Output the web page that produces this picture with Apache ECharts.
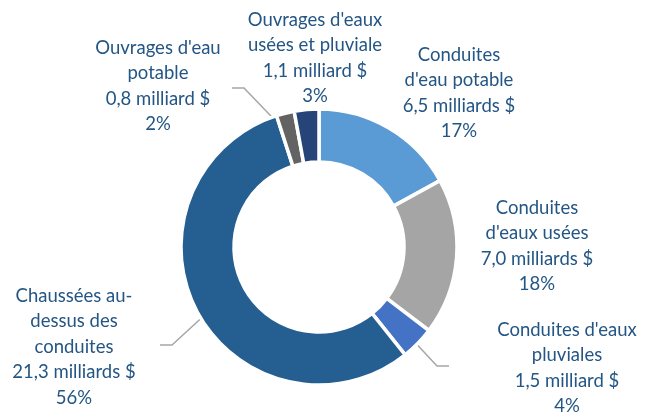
<!DOCTYPE html>
<html lang="fr">
<head>
<meta charset="utf-8">
<title>Répartition des coûts</title>
<script src="https://cdn.jsdelivr.net/npm/echarts@6/dist/echarts.min.js"></script>
<style>
  html, body { margin: 0; padding: 0; background: #fff; }
  #main { width: 645px; height: 414px; }
</style>
</head>
<body>
<div id="main"></div>
<script>
// données
var categories = [
  "Conduites\nd'eau potable",
  "Conduites\nd'eaux usées",
  "Conduites d'eaux\npluviales",
  "Chaussées au-\ndessus des\nconduites",
  "Ouvrages d'eau\npotable",
  "Ouvrages d'eaux\nusées et pluviale"
];
var values = [6.5, 7.0, 1.5, 21.3, 0.8, 1.1];
var colors = ['#5B9BD5', '#A5A5A5', '#4472C4', '#255E91', '#636363', '#264478'];

// position des étiquettes (centre du bloc de texte) et lignes de rappel
var labelPos = [[459, 93], [537, 246], [567, 368], [74, 347], [158, 86], [315, 58]];
var linePts = [null, null,
  [[397, 323], [437, 366], [449, 366]],
  [[221, 300], [172, 345], [160, 345]],
  [[292, 138], [244, 88], [232, 88]],
  null];

var chart = echarts.init(document.getElementById('main'));

var data = categories.map(function (c, i) {
  return {
    name: c,
    value: values[i],
    itemStyle: { color: colors[i] },
    labelLine: { show: !!linePts[i] }
  };
});

function fmt(p) {
  var v = p.value.toFixed(1).replace('.', ',');
  var unit = p.value < 2 ? ' milliard $' : ' milliards $';
  return p.name + '\n' + v + unit + '\n' + Math.round(p.percent) + '%';
}

chart.setOption({
  animation: false,
  series: [{
    type: 'pie',
    center: [319, 247],
    radius: [85, 138],
    startAngle: 90,
    clockwise: true,
    data: data,
    itemStyle: { borderColor: '#fff', borderWidth: 3.5 },
    label: {
      show: true,
      position: 'outside',
      formatter: fmt,
      color: '#245685',
      fontFamily: 'Lato, "Noto Sans", sans-serif',
      fontSize: 18.5,
      lineHeight: 25.5,
      align: 'center'
    },
    labelLine: {
      show: true,
      lineStyle: { color: '#A6A6A6', width: 1.5 }
    },
    labelLayout: function (params) {
      var i = params.dataIndex;
      var out = {
        x: labelPos[i][0],
        y: labelPos[i][1],
        align: 'center',
        verticalAlign: 'middle'
      };
      if (linePts[i]) out.labelLinePoints = linePts[i];
      return out;
    }
  }]
});
</script>
</body>
</html>
